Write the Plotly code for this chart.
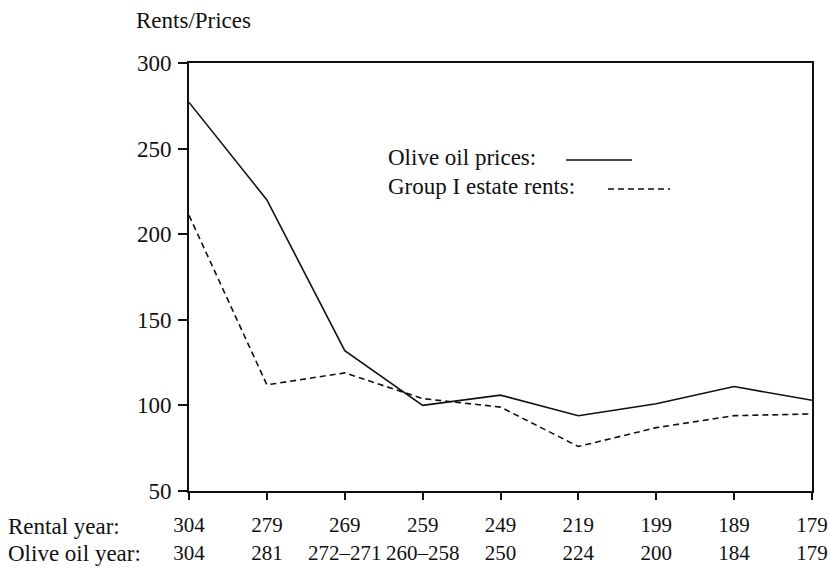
import plotly.graph_objects as go

rental_years = ["304", "279", "269", "259", "249", "219", "199", "189", "179"]
olive_years = ["304", "281", "272–271", "260–258", "250", "224", "200", "184", "179"]
olive_prices = [277, 220, 132, 100, 106, 94, 101, 111, 103]
estate_rents = [211, 112, 119, 104, 99, 76, 87, 94, 95]
y_ticks = [50, 100, 150, 200, 250, 300]

FONT = "'Liberation Serif', 'Times New Roman', 'DejaVu Serif', serif"
FS = 23
x_idx = list(range(len(rental_years)))
tick_text = [f"{r}<br>{o}" for r, o in zip(rental_years, olive_years)]

fig = go.Figure()
fig.add_trace(go.Scatter(x=x_idx, y=olive_prices, mode="lines",
                         line=dict(color="#111", width=1.6), name="Olive oil prices"))
fig.add_trace(go.Scatter(x=x_idx, y=estate_rents, mode="lines",
                         line=dict(color="#111", width=1.6, dash="6px,4px"),
                         name="Group I estate rents"))

W, H = 830, 568
L, T = 189, 63
R = W - 812
B = H - 491
pw, ph = W - L - R, H - T - B

def px(x):
    return (x - L) / pw

def py(y):
    return (H - B - y) / ph

fig.update_layout(
    width=W, height=H, margin=dict(l=L, r=R, t=T, b=B, autoexpand=False),
    paper_bgcolor="white", plot_bgcolor="white", showlegend=False,
    font=dict(family=FONT, size=FS, color="#111"),
    xaxis=dict(range=[-0.0005, len(x_idx) - 1 + 0.0005], tickmode="array", tickvals=x_idx,
               ticktext=tick_text, tickangle=0, automargin=False,
               tickfont=dict(size=21),
               showgrid=False, zeroline=False,
               showline=True, linecolor="#111", linewidth=2, mirror=True,
               ticks="outside", ticklen=7, tickwidth=1.5, tickcolor="#111",
               ticklabelstandoff=7),
    yaxis=dict(range=[50, 300], tickmode="array", tickvals=y_ticks,
               automargin=False, showgrid=False, zeroline=False,
               showline=True, linecolor="#111", linewidth=2, mirror=True,
               ticks="outside", ticklen=9, tickwidth=1.5, tickcolor="#111",
               ticklabelstandoff=2),
)

ann = dict(xref="paper", yref="paper", showarrow=False, xanchor="left",
           yanchor="middle", font=dict(family=FONT, size=FS, color="#111"))
fig.add_annotation(text="Rents/Prices", x=px(134), y=py(21), **ann)
fig.add_annotation(text="Rental year:", x=px(6), y=py(526), **ann)
fig.add_annotation(text="Olive oil year:", x=px(6), y=py(553), **ann)
fig.add_annotation(text="Olive oil prices:", x=px(386), y=py(157), **ann)
fig.add_annotation(text="Group I estate rents:", x=px(386), y=py(186), **ann)

fig.add_shape(type="line", xref="paper", yref="paper",
              x0=px(566), x1=px(632), y0=py(160), y1=py(160),
              line=dict(color="#111", width=1.6))
fig.add_shape(type="line", xref="paper", yref="paper",
              x0=px(608), x1=px(670), y0=py(189), y1=py(189),
              line=dict(color="#111", width=1.6, dash="6px,4px"))

fig.write_html(
    "out.html",
    config={"displayModeBar": False},
    post_script="document.body.style.margin='0';document.body.style.overflow='hidden';",
)
